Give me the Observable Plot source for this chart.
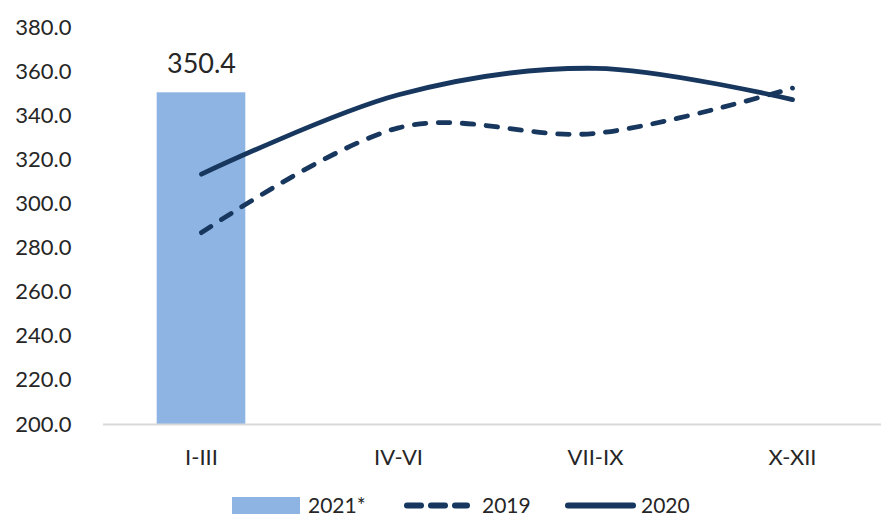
<!DOCTYPE html>
<html><head><meta charset="utf-8">
<script src="https://cdn.jsdelivr.net/npm/d3@7"></script>
<script src="https://cdn.jsdelivr.net/npm/@observablehq/plot@0.6"></script>
<style>
body{margin:0;background:#fff;font-family:Lato,sans-serif;}
#chart{width:881px;}
#legend{display:block;}
</style></head><body><div id="chart"></div>
<script>
const quarters = ["I-III", "IV-VI", "VII-IX", "X-XII"];
const values2021 = [350.4];
const values2019 = [287.0, 334.5, 332.0, 352.5];
const values2020 = [313.5, 349.5, 361.5, 347.3];
const yTicks = [200, 220, 240, 260, 280, 300, 320, 340, 360, 380];
const seriesNames = ["2021*", "2019", "2020"];

const barColor = "#8eb4e3";
const lineColor = "#17375e";
const textColor = "#262626";

const barData = values2021.map((v, i) => ({i, value: v}));
const d2019 = values2019.map((v, i) => ({i, value: v}));
const d2020 = values2020.map((v, i) => ({i, value: v}));
const curve = d3.curveCatmullRom.alpha(0);

const chart = Plot.plot({
  width: 881, height: 481,
  marginLeft: 103, marginRight: 0, marginTop: 27, marginBottom: 57,
  style: {fontFamily: "Lato, sans-serif", fontWeight: 400, fontSize: "22px", color: textColor, background: "#fff", overflow: "visible"},
  x: {type: "linear", domain: [-0.5, 3.5], range: [102.5, 890.5], axis: null},
  y: {domain: [200, 380], axis: null},
  marks: [
    Plot.rectY(barData, {x1: d => d.i - 0.225, x2: d => d.i + 0.225, y1: 200, y2: "value", fill: barColor}),
    Plot.ruleY([200], {stroke: "#d9d9d9", strokeWidth: 2}),
    Plot.text(barData, {x: "i", y: "value", text: d => d.value.toFixed(1), dy: -28, fontSize: 27, fill: textColor}),
    Plot.line(d2019, {x: "i", y: "value", curve, stroke: lineColor, strokeWidth: 4.8, strokeDasharray: "11.5,12.5", strokeLinecap: "round"}),
    Plot.line(d2020, {x: "i", y: "value", curve, stroke: lineColor, strokeWidth: 4.8, strokeLinecap: "round"}),
    Plot.axisY({ticks: yTicks, tickSize: 0, tickPadding: 32, tickFormat: d3.format(".1f"), label: null, fontSize: 22, fill: textColor}),
    Plot.axisX({ticks: [0, 1, 2, 3], tickSize: 0, tickPadding: 25, tickFormat: i => quarters[i], label: null, fontSize: 22, fill: textColor})
  ]
});
document.getElementById("chart").appendChild(chart);

// legend below the chart
const lg = d3.create("svg").attr("id", "legend").attr("width", 881).attr("height", 35)
  .style("font-family", "Lato, sans-serif").style("font-size", "21px");
lg.append("rect").attr("x", 232).attr("y", 16).attr("width", 68).attr("height", 17).attr("fill", barColor);
lg.append("text").attr("x", 308).attr("y", 23).attr("dominant-baseline", "central").attr("fill", textColor).text(seriesNames[0]);
lg.append("line").attr("x1", 407).attr("x2", 467).attr("y1", 24.5).attr("y2", 24.5)
  .attr("stroke", lineColor).attr("stroke-width", 6).attr("stroke-linecap", "round").attr("stroke-dasharray", "14,10");
lg.append("text").attr("x", 482).attr("y", 23).attr("dominant-baseline", "central").attr("fill", textColor).text(seriesNames[1]);
lg.append("line").attr("x1", 568).attr("x2", 633).attr("y1", 24.5).attr("y2", 24.5)
  .attr("stroke", lineColor).attr("stroke-width", 6).attr("stroke-linecap", "round");
lg.append("text").attr("x", 641).attr("y", 23).attr("dominant-baseline", "central").attr("fill", textColor).text(seriesNames[2]);
document.body.appendChild(lg.node());
</script></body></html>
